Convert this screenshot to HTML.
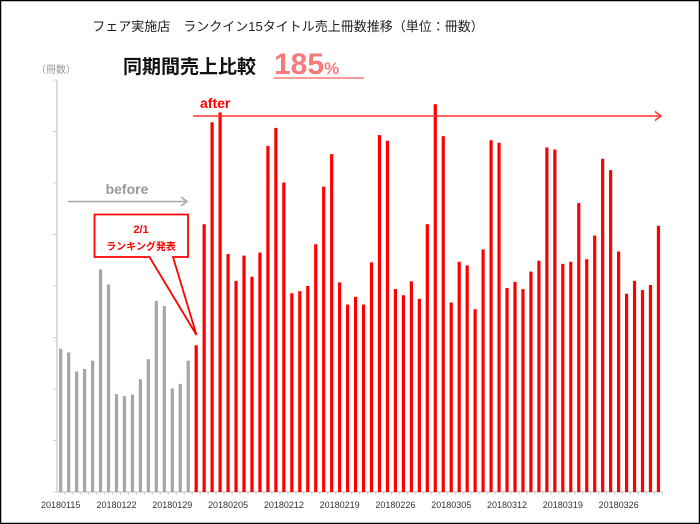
<!DOCTYPE html>
<html><head><meta charset="utf-8">
<style>
html,body{margin:0;padding:0;background:#fff;}
svg{display:block;font-family:"Liberation Sans","Noto Sans CJK JP",sans-serif;}
</style></head>
<body>
<svg id="chart" width="700" height="524" viewBox="0 0 700 524" xmlns="http://www.w3.org/2000/svg">
<rect x="0.5" y="0.5" width="699" height="523" fill="#fff" stroke="#000" stroke-width="1.5"/>
<text x="288" y="31" font-size="13" text-anchor="middle" fill="#222">フェア実施店　ランクイン15タイトル売上冊数推移（単位：冊数）</text>
<text x="123" y="73" font-size="19" font-weight="bold" fill="#111">同期間売上比較</text>
<text x="274" y="74" font-size="30" font-weight="bold" fill="#f77a7a">185<tspan font-size="17">%</tspan></text>
<line x1="274" y1="78" x2="364" y2="78" stroke="#f77a7a" stroke-width="1.5"/>
<text x="56" y="73" font-size="10" text-anchor="middle" fill="#999">（冊数）</text>
<g id="axes"></g>
<g id="bars"></g>
<g>
<text x="127" y="194" font-size="14" font-weight="bold" fill="#999" text-anchor="middle">before</text>
<line x1="68" y1="201.5" x2="187" y2="201.5" stroke="#aaa" stroke-width="1.5"/>
<polyline points="181,197 187,201.5 181,206" fill="none" stroke="#aaa" stroke-width="1.5"/>
</g>
<g>
<text x="200" y="108" font-size="14" font-weight="bold" fill="#f00">after</text>
<line x1="193" y1="116" x2="661" y2="116" stroke="#f33" stroke-width="1.5"/>
<polyline points="655,111.5 661,116 655,120.5" fill="none" stroke="#f33" stroke-width="1.5"/>
</g>
<g>
<path d="M94.5,214.5 H188 V257 H173 L196.5,335 L149.5,257 H94.5 Z" fill="#fff" stroke="#f00" stroke-width="1.8"/>
<text x="141" y="233" font-size="11" font-weight="bold" fill="#f00" text-anchor="middle">2/1</text>
<text x="141" y="250" font-size="10" font-weight="bold" fill="#f00" text-anchor="middle">ランキング発表</text>
</g>
</svg>
<script>
const dates = ["20180115","20180116","20180117","20180118","20180119","20180120","20180121","20180122","20180123","20180124","20180125","20180126","20180127","20180128","20180129","20180130","20180131","20180201","20180202","20180203","20180204","20180205","20180206","20180207","20180208","20180209","20180210","20180211","20180212","20180213","20180214","20180215","20180216","20180217","20180218","20180219","20180220","20180221","20180222","20180223","20180224","20180225","20180226","20180227","20180228","20180301","20180302","20180303","20180304","20180305","20180306","20180307","20180308","20180309","20180310","20180311","20180312","20180313","20180314","20180315","20180316","20180317","20180318","20180319","20180320","20180321","20180322","20180323","20180324","20180325","20180326","20180327","20180328","20180329","20180330","20180331"];
const beforeValues = [278,271,234,239,255,432,403,190,186,189,219,258,371,361,201,210,255];
const afterValues = [285,520,718,737,462,410,459,418,465,672,707,601,386,390,400,481,593,656,407,364,379,364,446,693,682,394,382,409,375,520,753,691,368,447,440,355,471,683,678,396,408,394,428,449,669,665,443,447,561,452,498,647,625,467,385,410,392,402,517];
const yTicks = [0,100,200,300,400,500,600,700,800];
const labelEvery = 7;

const NS = "http://www.w3.org/2000/svg";
const x0 = 60.7, step = 7.97, baseY = 492, pxPerUnit = 0.515;
const xScale = i => x0 + i * step;
const yScale = v => baseY - v * pxPerUnit;
const axes = document.getElementById('axes');
const bars = document.getElementById('bars');
function mk(tag, attrs, parent){const e=document.createElementNS(NS,tag);for(const k in attrs)e.setAttribute(k,attrs[k]);parent.appendChild(e);return e;}

const yAxis = mk('line',{x1:57,y1:yScale(800),x2:57,y2:baseY,stroke:'#d0d0d0','stroke-width':1.5},axes);


yTicks.forEach(t=>{
  const tk = mk('line',{x1:53,y1:yScale(t),x2:57,y2:yScale(t),stroke:'#d0d0d0','stroke-width':1},axes);
  
  
});
const xAxis = mk('line',{x1:57,y1:baseY,x2:xScale(dates.length-1)+4,y2:baseY,stroke:'#d0d0d0','stroke-width':1.5},axes);


dates.forEach((d,i)=>{
  const tk = mk('line',{x1:xScale(i)+step/2,y1:baseY,x2:xScale(i)+step/2,y2:baseY+3,stroke:'#d0d0d0','stroke-width':1},axes);
  
  
  if(i%labelEvery===0){
    const lb = mk('text',{x:xScale(i),y:508,'font-size':9,'text-anchor':'middle',fill:'#333'},axes);
    lb.textContent = d;
    
    
  }
});
const allValues = beforeValues.concat(afterValues);
allValues.forEach((v,i)=>{
  const isBefore = i < beforeValues.length;
  const r = mk('rect',{x:xScale(i)-1.6,y:yScale(v),width:3.2,height:baseY-yScale(v),fill:isBefore?'#a6a6a6':'#ff0000'},bars);
  
  
});
</script>
</body></html>
